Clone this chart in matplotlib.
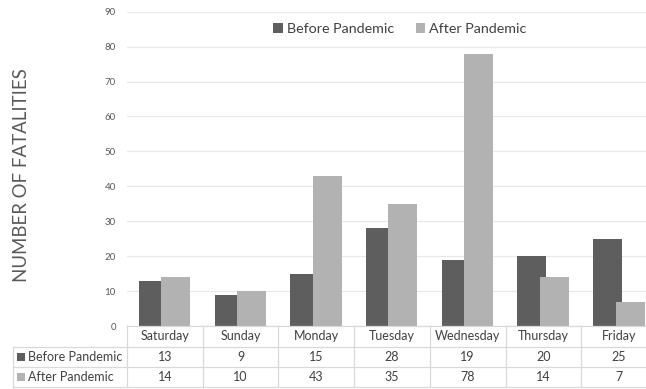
import matplotlib
matplotlib.use("Agg")
import matplotlib.pyplot as plt
from matplotlib.patches import Patch, Rectangle
from matplotlib.lines import Line2D
from matplotlib.transforms import blended_transform_factory
import numpy as np

days = ["Saturday", "Sunday", "Monday", "Tuesday", "Wednesday", "Thursday", "Friday"]
before = [13, 9, 15, 28, 19, 20, 25]
after = [14, 10, 43, 35, 78, 14, 7]
series_names = ["Before Pandemic", "After Pandemic"]
y_ticks = list(range(0, 100, 10))

DARK = "#5e5e5e"
LIGHT = "#b2b2b2"
GRID = "#e8e8e8"
BORDER = "#d9d9d9"
TXT = "#404040"
TICK = "#595959"

plt.rcParams["font.family"] = ["Lato", "DejaVu Sans"]

W, H = 646, 389
fig = plt.figure(figsize=(W / 100, H / 100), dpi=100)

def fy(py):
    return 1 - py / H

def fx(px):
    return px / W

ax_left, ax_right = 127, 657
ax_top, ax_bottom = 11.7, 326
ax = fig.add_axes([fx(ax_left), fy(ax_bottom), fx(ax_right - ax_left), (ax_bottom - ax_top) / H])

x = np.arange(len(days))
width = 0.383
ax.bar(x - 0.152, before, width, color=DARK, zorder=2)
ax.bar(x + 0.145, after, width, color=LIGHT, zorder=3)

ax.set_xlim(-0.5, len(days) - 0.5)
ax.set_ylim(0, 90)
ax.set_yticks(y_ticks)
ax.set_yticklabels([str(v) for v in y_ticks], fontsize=7, color=TICK)
ax.tick_params(axis="y", length=0, pad=8)
ax.set_xticks([])
ax.yaxis.grid(True, color=GRID, linewidth=0.9, zorder=0)
ax.set_axisbelow(True)
for s in ax.spines.values():
    s.set_visible(False)

fig.text(fx(22), fy(175), "NUMBER OF FATALITIES", rotation=90, ha="center", va="center",
         fontsize=13.4, color=TICK, fontweight="normal")

# legend at top
handles = [Patch(facecolor=DARK, edgecolor="none"), Patch(facecolor=LIGHT, edgecolor="none")]
fig.legend(handles, series_names, loc="center", bbox_to_anchor=(fx(400), fy(29)), ncol=2,
           frameon=False, fontsize=10.3, labelcolor=TXT, handlelength=0.65, handleheight=0.65,
           handletextpad=0.3, columnspacing=1.5)

# data table beneath the axis
tr = blended_transform_factory(ax.transData, fig.transFigure)
row_lines = [326, 347, 367, 387]
left_edge = 12.7
lw = 0.9
fig.add_artist(Line2D([fx(ax_left), fx(ax_right)], [fy(row_lines[0])] * 2, color=BORDER, lw=lw))
for py in row_lines[1:]:
    fig.add_artist(Line2D([fx(left_edge), fx(ax_right)], [fy(py)] * 2, color=BORDER, lw=lw))
fig.add_artist(Line2D([fx(left_edge)] * 2, [fy(row_lines[1]), fy(row_lines[3])], color=BORDER, lw=lw))
for b in np.arange(len(days) + 1) - 0.5:
    fig.add_artist(Line2D([b, b], [fy(row_lines[0]), fy(row_lines[3])], color=BORDER, lw=lw,
                          transform=tr))

def row_mid(i):
    return fy((row_lines[i] + row_lines[i + 1]) / 2)

FS = 9
for i, d in enumerate(days):
    fig.text(x[i], row_mid(0), d, transform=tr, ha="center", va="center", fontsize=FS, color=TXT)
    fig.text(x[i], row_mid(1), str(before[i]), transform=tr, ha="center", va="center",
             fontsize=FS, color=TXT)
    fig.text(x[i], row_mid(2), str(after[i]), transform=tr, ha="center", va="center",
             fontsize=FS, color=TXT)

for r, (name, col) in enumerate(zip(series_names, [DARK, LIGHT])):
    ym = row_mid(r + 1)
    sq = 7.5
    fig.add_artist(Rectangle((fx(17), ym - sq / 2 / H), sq / W, sq / H, facecolor=col,
                             edgecolor="none", transform=fig.transFigure))
    fig.text(fx(27.5), ym, name, ha="left", va="center", fontsize=FS, color=TXT)

fig.savefig("out.png", dpi=100)
